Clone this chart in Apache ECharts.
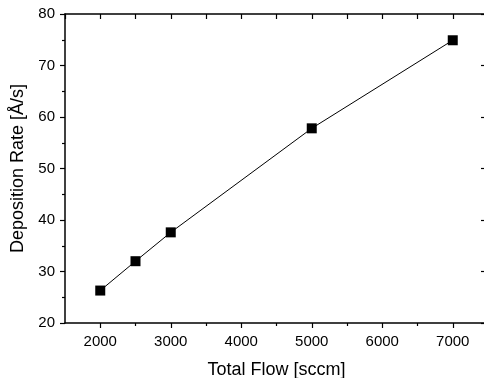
<!DOCTYPE html>
<html><head><meta charset="utf-8">
<script src="https://cdn.jsdelivr.net/npm/echarts@6/dist/echarts.min.js"></script>
<style>html,body{margin:0;padding:0;background:#fff}#c{width:484px;height:378px}</style>
</head><body><div id="c"></div>
<script>
const flowValues = [2000, 2500, 3000, 5000, 7000];
const rateValues = [26.3, 32.0, 37.6, 57.8, 74.9];
const xTickLabels = [2000, 3000, 4000, 5000, 6000, 7000];
const xMinorTicks = [2500, 3500, 4500, 5500, 6500];
const yTickLabels = [20, 30, 40, 50, 60, 70, 80];
const xTitle = 'Total Flow [sccm]';
const yTitle = 'Deposition Rate [Å/s]';

const FONT = '"Liberation Sans", Arial, sans-serif';
const axisLine = {show: true, lineStyle: {color: '#000', width: 1.5}};
const plain = v => String(v);
const chart = echarts.init(document.getElementById('c'));
chart.setOption({
  animation: false,
  grid: {left: 65, top: 14, width: 423, height: 309, containLabel: false, outerBoundsMode: 'none'},
  xAxis: [
    {type: 'value', position: 'bottom', min: 1500, max: 7500,
     name: xTitle, nameLocation: 'middle', nameGap: 38,
     nameTextStyle: {fontFamily: FONT, fontSize: 18, color: '#000'},
     axisLine: axisLine,
     axisTick: {show: true, inside: false, length: 5, customValues: xTickLabels, lineStyle: {color: '#000', width: 1.2}},
     axisLabel: {show: true, customValues: xTickLabels, formatter: plain, margin: 11, fontFamily: FONT, fontSize: 15, color: '#000'},
     splitLine: {show: false}},
    {type: 'value', position: 'bottom', min: 1500, max: 7500,
     axisLine: {show: false},
     axisTick: {show: true, inside: false, length: 3, customValues: xMinorTicks, lineStyle: {color: '#000', width: 1.2}},
     axisLabel: {show: false}, splitLine: {show: false}},
    {type: 'value', position: 'top', min: 1500, max: 7500, interval: 500,
     axisLine: axisLine,
     axisTick: {show: true, inside: true, length: 5, lineStyle: {color: '#000', width: 1.2}},
     axisLabel: {show: false}, splitLine: {show: false}}
  ],
  yAxis: [
    {type: 'value', position: 'left', min: 20, max: 80, interval: 10,
     name: yTitle, nameLocation: 'middle', nameGap: 35,
     nameTextStyle: {fontFamily: FONT, fontSize: 18, color: '#000'},
     axisLine: axisLine,
     axisTick: {show: true, inside: false, length: 5, lineStyle: {color: '#000', width: 1.2}},
     minorTick: {show: true, splitNumber: 2, length: 3, lineStyle: {color: '#000', width: 1.2}},
     axisLabel: {margin: 10, formatter: plain, fontFamily: FONT, fontSize: 15, color: '#000'},
     splitLine: {show: false}, minorSplitLine: {show: false}},
    {type: 'value', position: 'right', min: 20, max: 80, interval: 10,
     axisLine: axisLine,
     axisTick: {show: true, inside: true, length: 7, lineStyle: {color: '#000', width: 1.2}},
     axisLabel: {show: false}, splitLine: {show: false}}
  ],
  series: [{
    type: 'line', xAxisIndex: 0, yAxisIndex: 0,
    data: flowValues.map((x, i) => [x, rateValues[i]]),
    symbol: 'rect', symbolSize: 10,
    lineStyle: {color: '#000', width: 1},
    itemStyle: {color: '#000'}
  }]
});
</script></body></html>
